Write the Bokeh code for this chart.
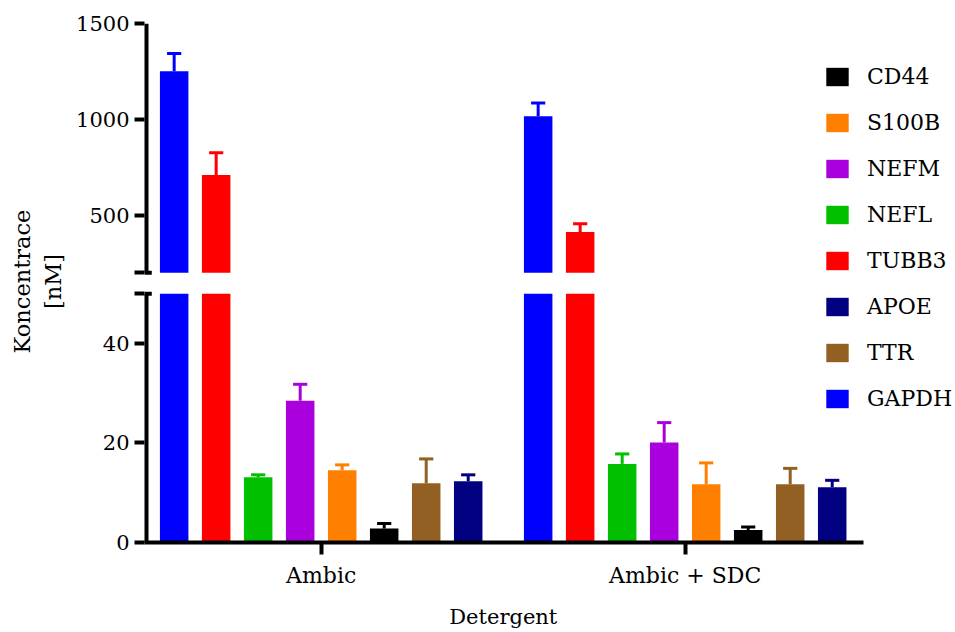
import numpy as np
from bokeh.plotting import figure
from bokeh.models import (FixedTicker, Legend, LegendItem, Range1d,
                          CustomJSTickFormatter)
from bokeh.embed import file_html
from bokeh.resources import INLINE

# ---------------- data ----------------
groups = ["Ambic", "Ambic + SDC"]
proteins = ["GAPDH", "TUBB3", "NEFL", "NEFM", "S100B", "CD44", "TTR", "APOE"]
legend_order = ["CD44", "S100B", "NEFM", "NEFL", "TUBB3", "APOE", "TTR", "GAPDH"]

gapdh = [1252, 1017]
gapdh_err = [93, 69]
tubb3 = [710, 413]
tubb3_err = [117, 43]
nefl = [13.1, 15.8]
nefl_err = [0.5, 2.0]
nefm = [28.5, 20.1]
nefm_err = [3.3, 4.0]
s100b = [14.5, 11.7]
s100b_err = [1.1, 4.3]
cd44 = [2.8, 2.5]
cd44_err = [1.0, 0.6]
ttr = [11.9, 11.7]
ttr_err = [4.9, 3.2]
apoe = [12.3, 11.1]
apoe_err = [1.3, 1.4]

colors = ["#0000FF", "#FF0000", "#00C000", "#AA00DD",
          "#FF8000", "#000000", "#926022", "#000080"]

y_ticks_low = [0, 20, 40]
y_ticks_high = [500, 1000, 1500]

means = [gapdh, tubb3, nefl, nefm, s100b, cd44, ttr, apoe]
errors = [gapdh_err, tubb3_err, nefl_err, nefm_err, s100b_err, cd44_err, ttr_err, apoe_err]

# ---------------- broken axis mapping ----------------
LOW_MAX = 50
HIGH_MIN = 200
HIGH_MAX = 1500
GAP = 4.22
HIGH_SCALE = 0.0385


def ty(v):
    if v <= LOW_MAX:
        return v
    return LOW_MAX + GAP + (v - HIGH_MIN) * HIGH_SCALE


BAR_STEP = 0.1154
BAR_W = 0.0783
CAP = 0.0195
X_START = -0.4854
X_AXIS_END = 1.4899
X_END = 1.7426
FONT = "DejaVu Serif"

p = figure(width=955, height=632, output_backend="svg", toolbar_location=None,
           x_range=Range1d(X_START, X_END), y_range=Range1d(0, 104.92),
           min_border_left=144, min_border_right=0, min_border_top=20,
           min_border_bottom=90)
p.outline_line_color = None
p.grid.visible = False
p.background_fill_color = "white"

renderers = {}
for i, (name, vals, errs, col) in enumerate(zip(proteins, means, errors, colors)):
    xs = [g + (i - 3.5) * BAR_STEP for g in range(len(groups))]
    low_top = [min(v, LOW_MAX) for v in vals]
    r = p.vbar(x=xs, top=low_top, bottom=0, width=BAR_W, fill_color=col,
               line_color=None)
    renderers[name] = r
    hx = [x for x, v in zip(xs, vals) if v > LOW_MAX]
    hv = [ty(v) for v in vals if v > LOW_MAX]
    if hx:
        p.vbar(x=hx, top=hv, bottom=ty(HIGH_MIN), width=BAR_W, fill_color=col,
               line_color=None)
    y0 = [ty(v) for v in vals]
    y1 = [ty(v + e) for v, e in zip(vals, errs)]
    p.segment(x0=xs, y0=y0, x1=xs, y1=y1, line_color=col, line_width=3)
    p.segment(x0=[x - CAP for x in xs], y0=y1, x1=[x + CAP for x in xs], y1=y1,
              line_color=col, line_width=3)

# broken y axis line drawn along frame edge
xa = X_START
p.segment(x0=[xa, xa], y0=[0, ty(HIGH_MIN)], x1=[xa, xa],
          y1=[LOW_MAX, ty(HIGH_MAX)], line_color="black", line_width=8)
p.segment(x0=[xa, xa], y0=[LOW_MAX, ty(HIGH_MIN)], x1=[xa + 0.02, xa + 0.02],
          y1=[LOW_MAX, ty(HIGH_MIN)], line_color="black", line_width=4)

tick_vals = y_ticks_low + [ty(LOW_MAX), ty(HIGH_MIN)] + [ty(v) for v in y_ticks_high]
tick_labels = [str(v) for v in y_ticks_low] + ["", ""] + [str(v) for v in y_ticks_high]

yax = p.yaxis[0]
yax.ticker = FixedTicker(ticks=tick_vals)
yax.formatter = CustomJSTickFormatter(args=dict(pos=tick_vals, labs=tick_labels), code="""
let b = 0;
for (let i = 0; i < pos.length; i++) {
  if (Math.abs(pos[i] - tick) < Math.abs(pos[b] - tick)) { b = i; }
}
return labs[b];
""")
yax.axis_line_color = None
yax.major_tick_out = 10
yax.major_tick_in = 0
yax.major_tick_line_width = 4
yax.minor_tick_line_color = None
yax.major_label_text_font = FONT
yax.major_label_text_font_size = "21px"
yax.major_label_text_color = "black"
yax.major_label_standoff = 5
yax.axis_label = "Koncentrace\n[nM]"
yax.axis_label_text_font = FONT
yax.axis_label_text_font_size = "22.5px"
yax.axis_label_text_font_style = "normal"
yax.axis_label_text_color = "black"
yax.axis_label_standoff = 7

xax = p.xaxis[0]
xax.bounds = (X_START, X_AXIS_END)
xax.ticker = FixedTicker(ticks=list(range(len(groups))))
xax.formatter = CustomJSTickFormatter(args=dict(labs=groups),
                                      code="return labs[Math.round(tick)];")
xax.axis_line_width = 4
xax.major_tick_out = 12
xax.major_tick_in = 0
xax.major_tick_line_width = 4
xax.minor_tick_line_color = None
xax.major_label_text_font = FONT
xax.major_label_text_font_size = "22px"
xax.major_label_text_color = "black"
xax.major_label_standoff = 8
# trailing no-break spaces centre the label under the drawn axis (frame runs to the legend)
xax.axis_label = "Detergent" + "\u00a0" * 14
xax.axis_label_text_font = FONT
xax.axis_label_text_font_size = "21px"
xax.axis_label_text_font_style = "normal"
xax.axis_label_text_color = "black"
xax.axis_label_standoff = 14

legend = Legend(items=[LegendItem(label=n, renderers=[renderers[n]]) for n in legend_order],
                location=(679, 131), orientation="vertical",
                glyph_width=28, glyph_height=23,
                label_text_font=FONT, label_text_font_size="22px",
                label_text_color="black",
                label_standoff=16, spacing=21, padding=0, margin=0,
                border_line_color=None, background_fill_alpha=0)
p.add_layout(legend)

open("out.html", "w").write(file_html(p, INLINE))
